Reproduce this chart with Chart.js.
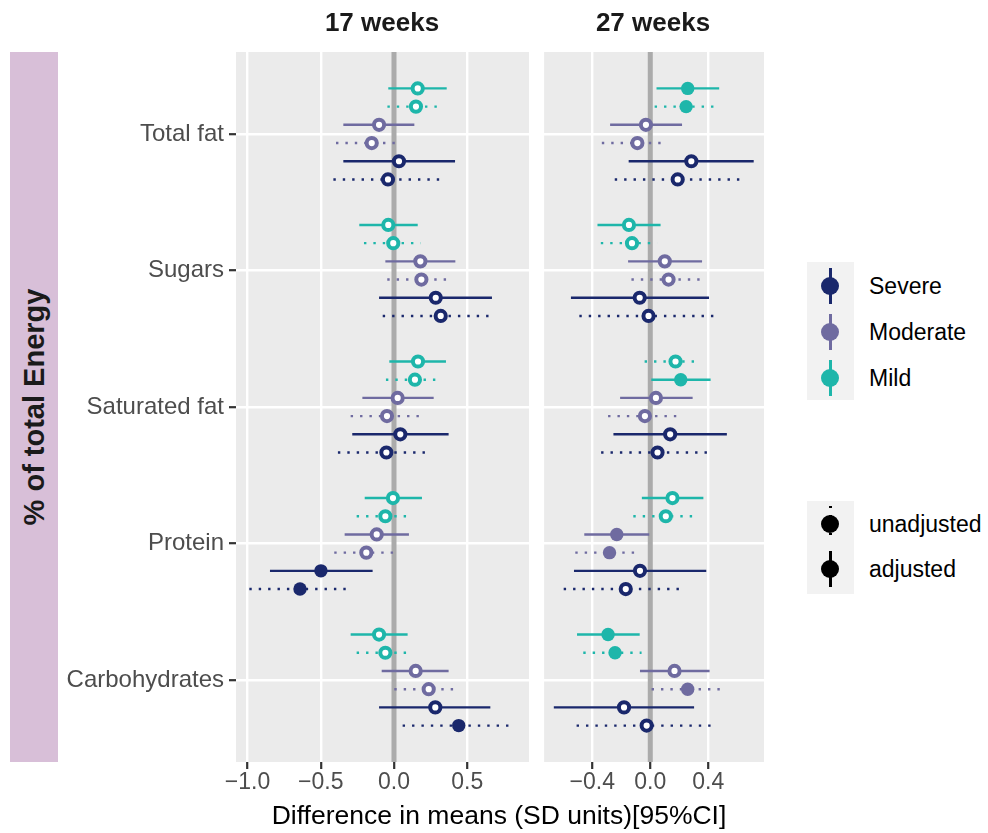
<!DOCTYPE html>
<html>
<head>
<meta charset="utf-8">
<script src="https://cdn.jsdelivr.net/npm/chart.js@4.4.1/dist/chart.umd.min.js"></script>
<style>
body { margin: 0; width: 988px; height: 833px; background: #fff; position: relative; overflow: hidden;
       font-family: "Liberation Sans", Arial, sans-serif; }
canvas { position: absolute; top: 0; }
#c17 { left: 0; }
#c27 { left: 535px; }
.strip { position: absolute; top: 8px; font-size: 26px; font-weight: bold; color: #1a1a1a; line-height: 28px; transform: translateX(-50%); white-space: nowrap; }
#ystrip { position: absolute; left: 10px; top: 52px; width: 48px; height: 710px; background: #D8BFD8; }
#ystrip span { position: absolute; left: 50%; top: 50%; transform: translate(-50%, -50%) rotate(-90deg);
               font-size: 29px; font-weight: bold; color: #1a1a1a; white-space: nowrap; }
#xtitle { position: absolute; top: 801px; left: 499px; transform: translateX(-50%); font-size: 26.5px; color: #000; white-space: nowrap; line-height: 28px; }
.lgbox { position: absolute; left: 807px; width: 47px; background: #F2F2F2; }
.lgline { position: absolute; left: 22px; width: 2.5px; }
.lgdot { position: absolute; left: 14px; width: 18px; height: 18px; border-radius: 50%; }
.lgtext { position: absolute; left: 869px; font-size: 23px; color: #000; line-height: 26px; white-space: nowrap; }
</style>
</head>
<body>
<canvas id="c17" width="540" height="833"></canvas>
<canvas id="c27" width="245" height="833"></canvas>
<div class="strip" style="left:382px">17 weeks</div>
<div class="strip" style="left:653px">27 weeks</div>
<div id="ystrip"><span>% of total Energy</span></div>
<div id="xtitle">Difference in means (SD units)[95%CI]</div>
<div id="legend"></div>
<script>
// categories, top to bottom
var categories = ['Total fat', 'Sugars', 'Saturated fat', 'Protein', 'Carbohydrates'];
var groups = ['Severe', 'Moderate', 'Mild'];
var groupColors = ['#1A286C', '#6F6BA0', '#1EB6AA'];
var types = ['unadjusted', 'adjusted'];

// rows inside each category
var rowGroup = ['Mild', 'Mild', 'Moderate', 'Moderate', 'Severe', 'Severe'];
var rowType = ['adjusted', 'unadjusted', 'adjusted', 'unadjusted', 'adjusted', 'unadjusted'];

var ticks17 = [-1.0, -0.5, 0.0, 0.5];
var ticks27 = [-0.4, 0.0, 0.4];

// 17 weeks
var est17 = [0.162, 0.150, -0.102, -0.152, 0.034, -0.041,
             -0.039, -0.005, 0.180, 0.187, 0.285, 0.319,
             0.164, 0.143, 0.025, -0.048, 0.043, -0.052,
             -0.007, -0.059, -0.118, -0.189, -0.499, -0.642,
             -0.102, -0.059, 0.148, 0.237, 0.282, 0.442];
var lo17 = [-0.039, -0.045, -0.346, -0.396, -0.346, -0.414,
            -0.237, -0.205, -0.059, -0.046, -0.102, -0.077,
            -0.032, -0.055, -0.216, -0.296, -0.285, -0.383,
            -0.200, -0.255, -0.337, -0.408, -0.847, -0.988,
            -0.296, -0.255, -0.084, 0.002, -0.102, 0.059];
var hi17 = [0.360, 0.337, 0.139, 0.052, 0.417, 0.332,
            0.162, 0.182, 0.419, 0.401, 0.669, 0.678,
            0.355, 0.328, 0.271, 0.200, 0.373, 0.246,
            0.191, 0.123, 0.102, 0.041, -0.146, -0.301,
            0.093, 0.128, 0.373, 0.451, 0.658, 0.815];
var sig17 = [0, 0, 0, 0, 0, 0,
             0, 0, 0, 0, 0, 0,
             0, 0, 0, 0, 0, 0,
             0, 0, 0, 0, 1, 1,
             0, 0, 0, 0, 0, 1];
var slot17 = [0, 1, 2, 3, 4, 5, 0, 1, 2, 3, 4, 5, 0, 1, 2, 3, 4, 5, 0, 1, 2, 3, 4, 5, 0, 1, 2, 3, 4, 5];

// 27 weeks
var est27 = [0.258, 0.247, -0.030, -0.089, 0.283, 0.189,
             -0.147, -0.126, 0.100, 0.126, -0.073, -0.012,
             0.210, 0.174, 0.039, -0.037, 0.137, 0.050,
             0.153, 0.107, -0.231, -0.281, -0.071, -0.169,
             -0.291, -0.243, 0.167, 0.258, -0.181, -0.025];
var lo27 = [0.043, 0.030, -0.277, -0.334, -0.149, -0.245,
            -0.364, -0.341, -0.153, -0.130, -0.547, -0.489,
            0.007, -0.039, -0.208, -0.291, -0.254, -0.339,
            -0.058, -0.117, -0.455, -0.517, -0.526, -0.597,
            -0.505, -0.462, -0.071, 0.009, -0.665, -0.508];
var hi27 = [0.475, 0.466, 0.219, 0.112, 0.713, 0.631,
            0.071, 0.048, 0.357, 0.380, 0.405, 0.455,
            0.416, 0.345, 0.292, 0.213, 0.528, 0.414,
            0.366, 0.327, -0.007, -0.071, 0.386, 0.224,
            -0.073, -0.060, 0.409, 0.505, 0.302, 0.441];
var sig27 = [1, 1, 0, 0, 0, 0,
             0, 0, 0, 0, 0, 0,
             1, 0, 0, 0, 0, 0,
             0, 0, 1, 1, 0, 0,
             1, 1, 0, 1, 0, 0];
var slot27 = [0, 1, 2, 3, 4, 5, 0, 1, 2, 3, 4, 5, 1, 0, 2, 3, 4, 5, 0, 1, 2, 3, 4, 5, 0, 1, 2, 3, 4, 5];

var dodge = 0.8 / 6;

Chart.defaults.font.family = '"Liberation Sans", Arial, sans-serif';

function fmt(v) {
	return v.toFixed(1).replace('-', '\u2212');
}

var panelBg = {
	id: 'panelBg',
	beforeDraw: function(chart) {
		var a = chart.chartArea, ctx = chart.ctx;
		ctx.save();
		ctx.fillStyle = '#EBEBEB';
		ctx.fillRect(a.left, a.top, a.right - a.left, a.bottom - a.top);
		ctx.restore();
	}
};

function buildDatasets(est, lo, hi, sig, slot) {
	var sets = [];
	var pts = [], bg = [], bd = [], rad = [], bw = [];

	// reference line at zero
	sets.push({
		data: [{x: 0, y: -0.6}, {x: 0, y: 4.6}],
		showLine: true, borderColor: '#ABABAB', borderWidth: 5,
		pointRadius: 0, order: 3
	});

	est.forEach(function(v, i) {
		var cat = Math.floor(i / 6), r = i % 6;
		var y = cat + (slot[i] - 2.5) * dodge;
		var col = groupColors[groups.indexOf(rowGroup[r])];
		sets.push({
			data: [{x: lo[i], y: y}, {x: hi[i], y: y}],
			showLine: true, borderColor: col, borderWidth: 2.4,
			borderDash: rowType[r] == 'unadjusted' ? [2.4, 7] : [],
			borderCapStyle: 'butt',
			pointRadius: 0, order: 2
		});
		pts.push({x: v, y: y});
		bd.push(col);
		bg.push(sig[i] ? col : '#FFFFFF');
		rad.push(sig[i] ? 6.7 : 5.1);
		bw.push(sig[i] ? 0 : 4);
	});

	sets.push({
		data: pts, showLine: false,
		pointBackgroundColor: bg, pointBorderColor: bd,
		pointRadius: rad, pointBorderWidth: bw, order: 1
	});
	return sets;
}

function makeChart(id, est, lo, hi, sig, slot, xmin, xmax, xticks, showY, pad) {
	var config = {
		type: 'scatter',
		data: { datasets: buildDatasets(est, lo, hi, sig, slot) },
		options: {
			responsive: false,
			animation: false,
			events: [],
			layout: { padding: pad },
			plugins: { legend: { display: false }, tooltip: { enabled: false } },
			scales: {
				x: {
					type: 'linear', min: xmin, max: xmax,
					afterBuildTicks: function(s) { s.ticks = xticks.map(function(v) { return {value: v}; }); },
					afterFit: function(s) { s.height = 40; },
					grid: { color: '#FFFFFF', lineWidth: 2.4, drawTicks: true, tickLength: 7,
					        tickColor: '#333333', tickWidth: 2.2 },
					border: { display: false },
					ticks: { color: '#4D4D4D', font: { size: 23 }, padding: 0, maxRotation: 0,
					          callback: function(v) { return fmt(v); } }
				},
				y: {
					type: 'linear', min: -0.6, max: 4.6, reverse: true,
					afterBuildTicks: function(s) { s.ticks = categories.map(function(c, i) { return {value: i}; }); },
					afterFit: function(s) { s.width = showY ? 236 : 0; },
					grid: { color: '#FFFFFF', lineWidth: 2.4, drawTicks: showY, tickLength: 7,
					        tickColor: '#333333', tickWidth: 2.2 },
					border: { display: false },
					ticks: { display: showY, color: '#4D4D4D', font: { size: 24 }, padding: 5,
					          callback: function(v) { return categories[v]; } }
				}
			}
		},
		plugins: [panelBg]
	};
	return new Chart(document.getElementById(id), config);
}

makeChart('c17', est17, lo17, hi17, sig17, slot17, -1.079, 0.922, ticks17, true,
          {left: 0, right: 11, top: 52, bottom: 31});
makeChart('c27', est27, lo27, hi27, sig27, slot27, -0.732, 0.784, ticks27, false,
          {left: 8, right: 16, top: 52, bottom: 31});

// legends
var lg = document.getElementById('legend');
var html = '<div class="lgbox" style="top:262px;height:138px"></div>';
var keyY = [286, 332, 378];
groups.forEach(function(g, i) {
	html += '<div class="lgline" style="left:829px;top:' + (keyY[i] - 18) + 'px;height:36px;background:' + groupColors[i] + '"></div>';
	html += '<div class="lgdot" style="left:821px;top:' + (keyY[i] - 9) + 'px;background:' + groupColors[i] + '"></div>';
	html += '<div class="lgtext" style="top:' + (keyY[i] - 13) + 'px">' + g + '</div>';
});
html += '<div class="lgbox" style="top:501px;height:93px"></div>';
var typeY = [524, 569];
types.forEach(function(t, i) {
	var line = t == 'unadjusted'
		? 'background:repeating-linear-gradient(to bottom,#000 0 2px,transparent 2px 9px)'
		: 'background:#000';
	html += '<div class="lgline" style="left:829px;top:' + (typeY[i] - 18) + 'px;height:36px;' + line + '"></div>';
	html += '<div class="lgdot" style="left:821px;top:' + (typeY[i] - 9) + 'px;background:#000"></div>';
	html += '<div class="lgtext" style="top:' + (typeY[i] - 13) + 'px">' + t + '</div>';
});
lg.innerHTML = html;
</script>
</body>
</html>
